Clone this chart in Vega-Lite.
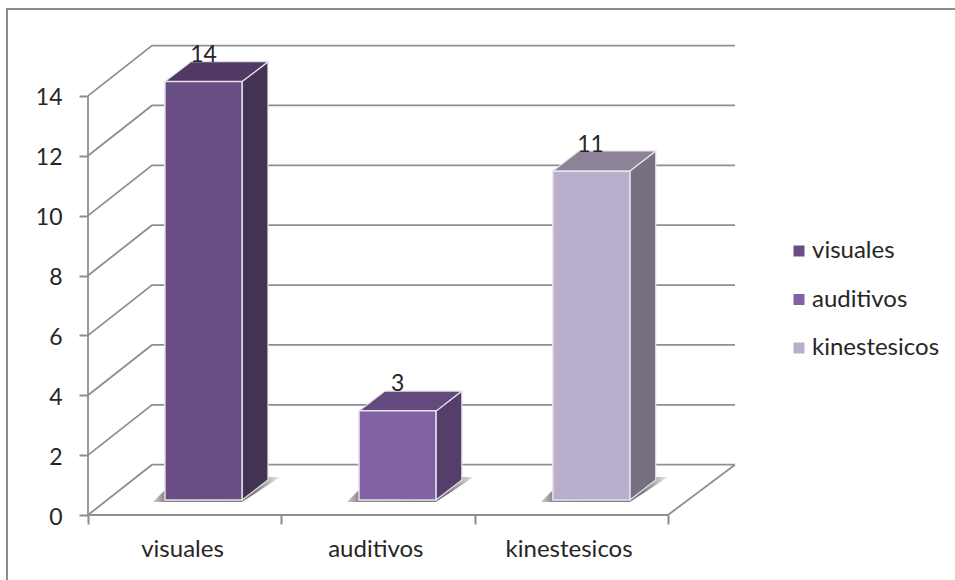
{"$schema":"https://vega.github.io/schema/vega-lite/v6.json","width":647,"height":470,"autosize":"none","padding":{"left":88,"top":45,"right":220,"bottom":65},"background":"#ffffff","config":{"view":{"stroke":null},"text":{"font":"Lato"}},
"datasets":{
"frame":[{"x":-0.419,"x2":4.6,"y":-2.4,"y2":16.9}],
"bars":[{"category":"visuales","value":14,"left":0.398,"right":0.797,"middle":0.598},{"category":"auditivos","value":3,"left":1.402,"right":1.8,"middle":1.602},{"category":"kinestesicos","value":11,"left":2.405,"right":2.803,"middle":2.6}],
"grid":[{"level":"0","x":0,"y":0},{"level":"0","x":0.331,"y":1.68},{"level":"0","x":3.347,"y":1.68},{"level":"2","x":0,"y":2},{"level":"2","x":0.331,"y":3.68},{"level":"2","x":3.347,"y":3.68},{"level":"4","x":0,"y":4},{"level":"4","x":0.331,"y":5.68},{"level":"4","x":3.347,"y":5.68},{"level":"6","x":0,"y":6},{"level":"6","x":0.331,"y":7.68},{"level":"6","x":3.347,"y":7.68},{"level":"8","x":0,"y":8},{"level":"8","x":0.331,"y":9.68},{"level":"8","x":3.347,"y":9.68},{"level":"10","x":0,"y":10},{"level":"10","x":0.331,"y":11.68},{"level":"10","x":3.347,"y":11.68},{"level":"12","x":0,"y":12},{"level":"12","x":0.331,"y":13.68},{"level":"12","x":3.347,"y":13.68},{"level":"14","x":0,"y":14},{"level":"14","x":0.331,"y":15.68},{"level":"14","x":3.347,"y":15.68},{"level":"floor","x":0,"y":0},{"level":"floor","x":3,"y":0},{"level":"floor","x":3.347,"y":1.68}],
"yline":[{"x":0,"y":0,"y2":14}],
"shadow":[{"category":"visuales","x":0.336,"base":0.434,"top":0.434},{"category":"visuales","x":0.398,"base":0.434,"top":0.835},{"category":"visuales","x":0.797,"base":0.434,"top":0.835},{"category":"visuales","x":0.931,"base":1.0,"top":1.27},{"category":"visuales","x":0.993,"base":1.27,"top":1.27},{"category":"auditivos","x":1.339,"base":0.434,"top":0.434},{"category":"auditivos","x":1.401,"base":0.434,"top":0.835},{"category":"auditivos","x":1.8,"base":0.434,"top":0.835},{"category":"auditivos","x":1.934,"base":1.0,"top":1.27},{"category":"auditivos","x":1.996,"base":1.27,"top":1.27},{"category":"kinestesicos","x":2.343,"base":0.434,"top":0.434},{"category":"kinestesicos","x":2.405,"base":0.434,"top":0.835},{"category":"kinestesicos","x":2.804,"base":0.434,"top":0.835},{"category":"kinestesicos","x":2.938,"base":1.0,"top":1.27},{"category":"kinestesicos","x":3.0,"base":1.27,"top":1.27}],
"side":[{"category":"visuales","x":0.797,"top":14.48,"base":0.5},{"category":"visuales","x":0.931,"top":15.14,"base":1.17},{"category":"auditivos","x":1.8,"top":3.47,"base":0.5},{"category":"auditivos","x":1.934,"top":4.14,"base":1.17},{"category":"kinestesicos","x":2.803,"top":11.49,"base":0.5},{"category":"kinestesicos","x":2.937,"top":12.16,"base":1.17}],
"topface":[{"category":"visuales","x":0.398,"top":14.48,"base":14.48},{"category":"visuales","x":0.532,"top":15.14,"base":14.48},{"category":"visuales","x":0.797,"top":15.14,"base":14.48},{"category":"visuales","x":0.931,"top":15.14,"base":15.14},{"category":"auditivos","x":1.402,"top":3.47,"base":3.47},{"category":"auditivos","x":1.536,"top":4.14,"base":3.47},{"category":"auditivos","x":1.8,"top":4.14,"base":3.47},{"category":"auditivos","x":1.934,"top":4.14,"base":4.14},{"category":"kinestesicos","x":2.405,"top":11.49,"base":11.49},{"category":"kinestesicos","x":2.539,"top":12.16,"base":11.49},{"category":"kinestesicos","x":2.803,"top":12.16,"base":11.49},{"category":"kinestesicos","x":2.937,"top":12.16,"base":12.16}]
},
"layer":[
{"data":{"name":"frame"},"mark":{"type":"rect","filled":false,"stroke":"#8c8c8c","strokeWidth":2},
"encoding":{
"x":{"field":"x","type":"quantitative","scale":{"domain":[0,3.347],"nice":false,"zero":false},"title":null,"axis":{"values":[0,1,2,3],"grid":false,"domain":false,"tickColor":"#8c8c8c","tickWidth":2,"tickSize":9,"labelExpr":"datum.value==0?'visuales':datum.value==1?'auditivos':datum.value==2?'kinestesicos':''","labelOffset":94,"labelFont":"Lato","labelFontSize":24,"labelColor":"#262626","labelPadding":13,"labelOverlap":false,"labelBound":false,"labelFlush":false}},
"x2":{"field":"x2"},
"y":{"field":"y","type":"quantitative","scale":{"domain":[0,15.7],"nice":false,"zero":false},"title":null,"axis":{"values":[0,2,4,6,8,10,12,14],"grid":false,"domain":false,"tickColor":"#8c8c8c","tickWidth":2,"tickSize":9,"labelFont":"Lato","labelFontSize":23,"labelColor":"#262626","labelPadding":17,"labelOffset":2,"labelOverlap":false,"labelBound":false,"labelFlush":false}},
"y2":{"field":"y2"}}},
{"data":{"name":"grid"},"mark":{"type":"line","color":"#8f8f8f","strokeWidth":1.8},"encoding":{"x":{"field":"x","type":"quantitative","title":null},"y":{"field":"y","type":"quantitative","title":null,"stack":null},"detail":{"field":"level"}}},
{"data":{"name":"yline"},"mark":{"type":"rule","color":"#8f8f8f","strokeWidth":1.8},"encoding":{"x":{"field":"x","type":"quantitative","title":null},"y":{"field":"y","type":"quantitative","title":null},"y2":{"field":"y2"}}},
{"data":{"name":"shadow"},"mark":{"type":"area","color":{"gradient":"linear","x1":0,"x2":1,"y1":0,"y2":0,"stops":[{"offset":0,"color":"#d0d0d0"},{"offset":0.09,"color":"#8a8a8a"},{"offset":0.8,"color":"#7a7a7a"},{"offset":1,"color":"#ececec"}]}},"encoding":{"x":{"field":"x","type":"quantitative","title":null},"y":{"field":"top","type":"quantitative","title":null,"stack":null},"y2":{"field":"base"},"detail":{"field":"category"}}},
{"data":{"name":"side"},"mark":{"type":"area","stroke":"#e6e2ec","strokeWidth":1.2},"encoding":{"x":{"field":"x","type":"quantitative","title":null},"y":{"field":"top","type":"quantitative","title":null,"stack":null},"y2":{"field":"base"},"color":{"field":"category","type":"nominal","legend":null,"scale":{"domain":["visuales","auditivos","kinestesicos"],"range":["#433353","#533f6a","#79707f"]}}}},
{"data":{"name":"topface"},"mark":{"type":"area","stroke":"#e6e2ec","strokeWidth":1.2},"encoding":{"x":{"field":"x","type":"quantitative","title":null},"y":{"field":"top","type":"quantitative","title":null,"stack":null},"y2":{"field":"base"},"color":{"field":"category","type":"nominal","legend":null,"scale":{"domain":["visuales","auditivos","kinestesicos"],"range":["#503a64","#634a7d","#8d8399"]}}}},
{"data":{"name":"bars"},"mark":{"type":"bar","stroke":"#e6e2ec","strokeWidth":1.5,"yOffset":-14.5,"y2Offset":-15,"opacity":1},"encoding":{"x":{"field":"left","type":"quantitative","title":null},"x2":{"field":"right"},"y":{"field":"value","type":"quantitative","title":null,"stack":null},"y2":{"datum":0},"color":{"field":"category","type":"nominal","scale":{"domain":["visuales","auditivos","kinestesicos"],"range":["#694e84","#8262a4","#b9aecb"]},"legend":{"title":null,"orient":"none","legendX":699,"legendY":194,"symbolType":"square","symbolSize":121,"symbolStrokeWidth":0,"symbolOpacity":1,"labelFont":"Lato","labelFontSize":24,"labelColor":"#262626","labelOffset":1,"rowPadding":24.5,"padding":0}}}},
{"data":{"name":"bars"},"mark":{"type":"text","font":"Lato","fontSize":23,"color":"#262626","dy":-41,"baseline":"middle","align":"center"},"encoding":{"x":{"field":"middle","type":"quantitative","title":null},"y":{"field":"value","type":"quantitative","title":null},"text":{"field":"value","type":"quantitative"}}}
],
"resolve":{"scale":{"color":"independent"}}}
